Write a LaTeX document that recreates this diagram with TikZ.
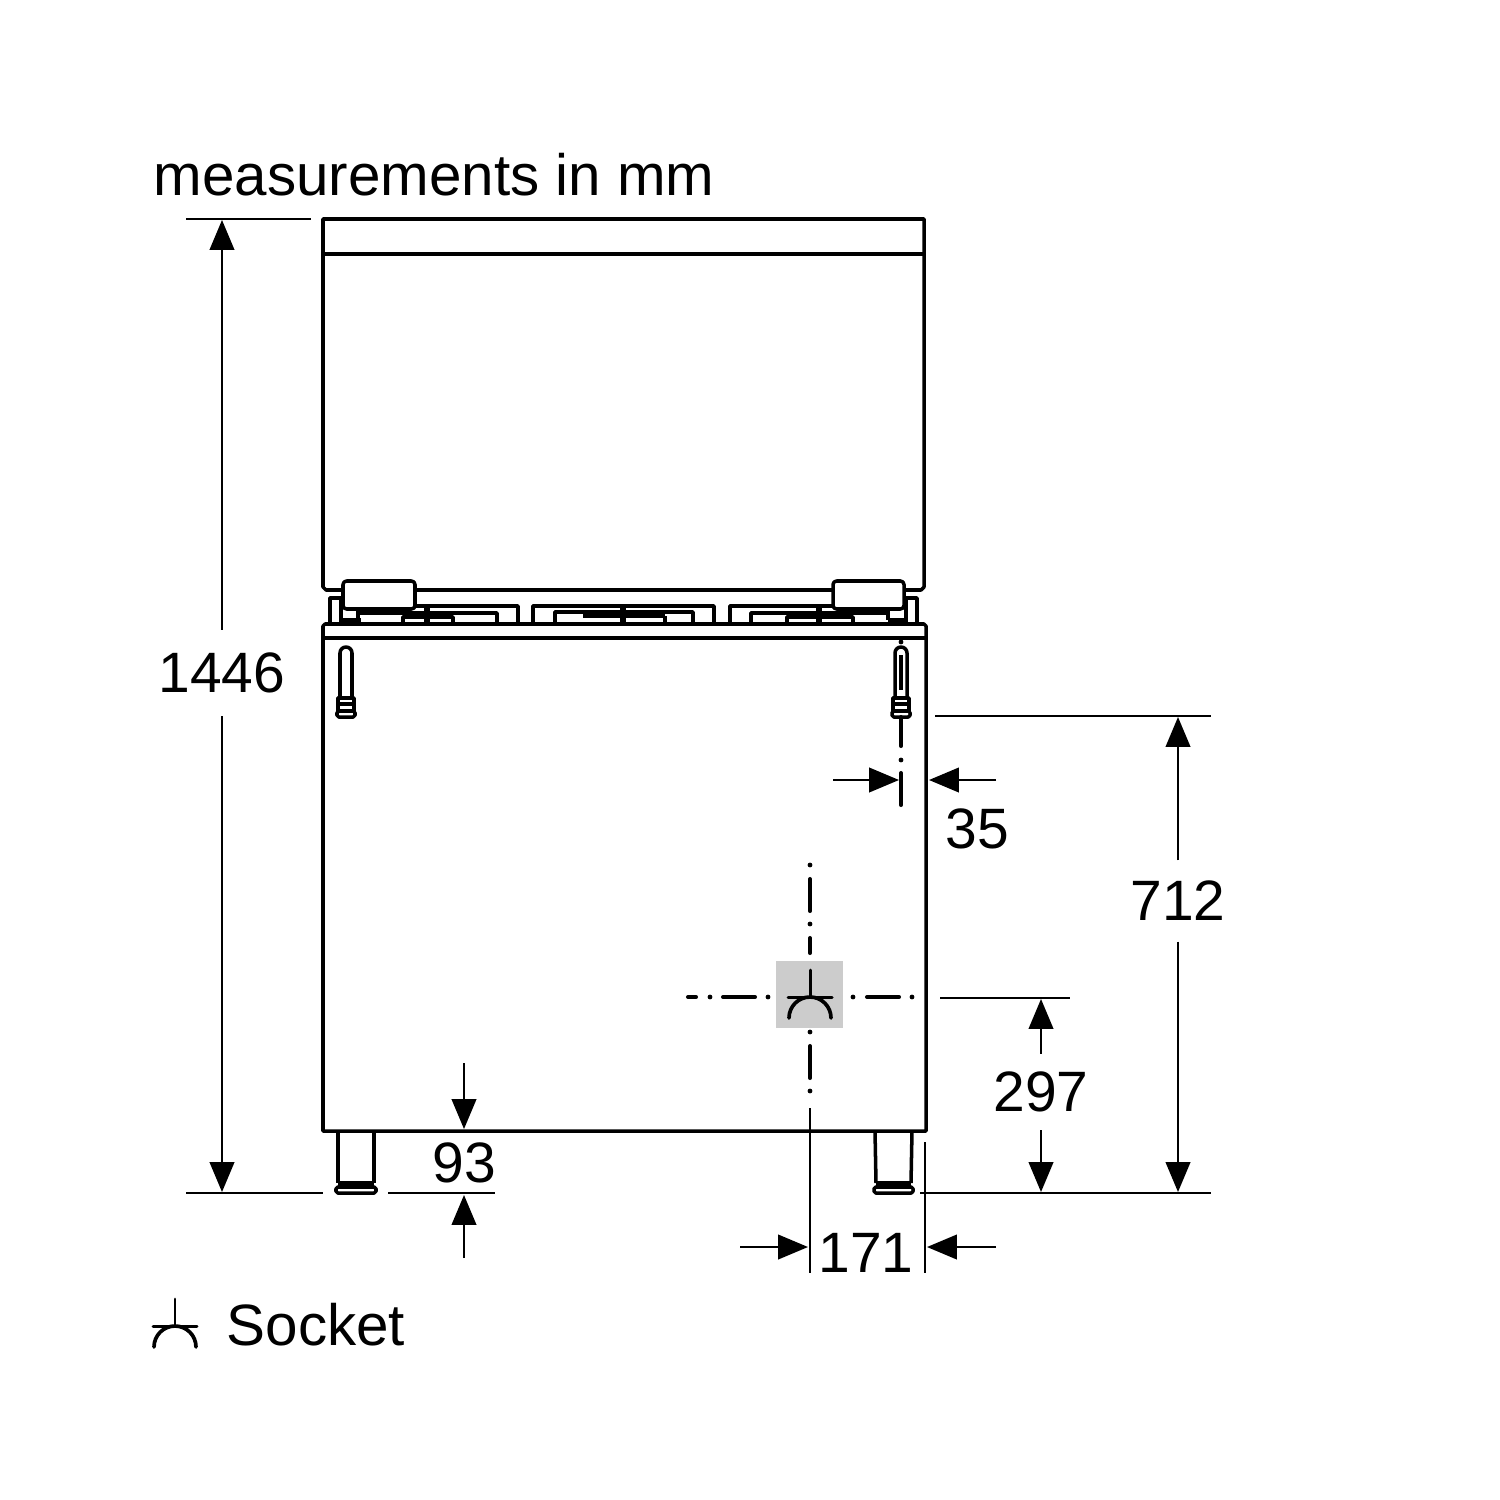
\documentclass[tikz,border=0pt]{standalone}
\usepackage{fontspec}
\setmainfont{Liberation Sans}
\usetikzlibrary{arrows.meta}
\tikzset{
	outline/.style={line width=1pt, line join=round},
	fine/.style={line width=.55pt},
	dimarrow/.style={line width=.55pt, -{Triangle[length=8.5pt,width=7pt]}},
	dimlabel/.style={inner sep=0pt, minimum height=8mm, font=\fontsize{16.2}{17}\selectfont},
	caption/.style={inner sep=0pt, anchor=base west, font=\fontsize{16.6}{17}\selectfont},
	center line/.style={line width=1.15pt, line cap=round},
	socketsym/.pic={
		\draw[line width=.85pt, line cap=round] (0,-27) -- (0,0);
		\draw[line width=.85pt, line cap=round] (-22,0) -- (22,0);
		\draw[line width=1.05pt, line cap=round] (-21,21) arc[start angle=180, end angle=360, radius=21];
	},
	gaspipe/.pic={
		\draw[outline] (-6,51) -- (-6,6) arc[start angle=180, end angle=360, radius=6] -- (6,51);
		\draw[outline] (-8,51) rectangle (8,64);
		\draw[outline] (-8,57) -- (8,57);
		\draw[outline, rounded corners=.5pt] (-9,64) rectangle (9,70);
	},
}
\begin{document}
\begin{tikzpicture}[x=.1mm, y=-.1mm]
	\useasboundingbox (0,0) rectangle (1500,1500);

	% socket field
	\fill[black!20] (776,961) rectangle (843,1028);
	\pic at (810,997) {socketsym};
	\pic at (175,1326) {socketsym};

	% lid
	\draw[outline] (343,590) -- (326,590) -- (323,587) -- (323,219) -- (924,219) -- (924,587) -- (921,590) -- (904,590);
	\draw[outline] (323,254) -- (924,254);
	\draw[outline] (415,590) -- (833,590);

	% hinges
	\draw[outline, rounded corners=1pt] (343,581) rectangle (415,609);
	\draw[outline, rounded corners=1pt] (833,581) rectangle (904,609);
	\draw[outline] (330,624) -- (330,598) -- (343,598);
	\draw[line width=1.3pt] (341,598) -- (341,624);
	\draw[outline] (904,598) -- (917,598) -- (917,624);
	\draw[line width=1.3pt] (906,598) -- (906,624);
	\draw[outline] (341,620) -- (361,620);
	\draw[outline] (358,609) -- (358,620);
	\draw[outline] (888,620) -- (906,620);
	\draw[outline] (888,609) -- (888,620);

	% burners
	\draw[outline] (415,606) -- (518,606) -- (518,624);
	\draw[outline] (358,613) -- (497,613) -- (497,624);
	\draw[outline] (403,622) -- (403,617) -- (453,617) -- (453,622);
	\draw[line width=1.6pt] (427,606) -- (427,624);
	\draw[outline] (533,624) -- (533,606) -- (714,606) -- (714,624);
	\draw[outline] (555,624) -- (555,612) -- (693,612) -- (693,624);
	\draw[line width=1.3pt] (583,616) -- (665,616);
	\draw[outline] (665,616) -- (665,622);
	\draw[line width=1.6pt] (623,606) -- (623,624);
	\draw[outline] (730,624) -- (730,606) -- (833,606);
	\draw[outline] (751,624) -- (751,613) -- (888,613);
	\draw[outline] (787,622) -- (787,617) -- (853,617) -- (853,622);
	\draw[line width=1.6pt] (819,606) -- (819,624);

	% body
	\draw[outline] (323,1131) -- (323,626) -- (325,624) -- (924,624) -- (926,626) -- (926,1131) -- cycle;
	\draw[outline] (323,638) -- (926,638);

	% gas pipes
	\pic at (346,647) {gaspipe};
	\pic at (901,647) {gaspipe};
	\draw[line width=1.4pt] (901,655) -- (901,690);

	% feet
	\draw[outline] (338,1131) -- (338,1183);
	\draw[outline] (374,1131) -- (374,1183);
	\draw[line width=1.5pt] (338,1184) -- (374,1184);
	\draw[outline, rounded corners=.5pt] (336,1187) rectangle (376,1193);
	\draw[outline] (875,1131) -- (876,1183);
	\draw[outline] (912,1131) -- (911,1183);
	\draw[line width=1.5pt] (876,1184) -- (911,1184);
	\draw[outline, rounded corners=.5pt] (874,1187) rectangle (913,1193);

	% centre lines
	\draw[center line] (901,717) -- (901,746);
	\draw[center line] (901,773) -- (901,805);
	\draw[center line] (688,997) -- (696,997);
	\draw[center line] (723,997) -- (755,997);
	\draw[center line] (867,997) -- (899,997);
	\draw[center line] (810,879) -- (810,911);
	\draw[center line] (810,938) -- (810,953);
	\draw[center line] (810,1046) -- (810,1078);
	\foreach \px/\py in {901/642, 901/760, 710/997, 768/997, 853/997, 912/997, 810/865, 810/924, 810/1032, 810/1091}
		\fill (\px,\py) circle (2.4);

	% dimension limits
	\draw[fine] (186,219) -- (311,219);
	\draw[fine] (186,1193) -- (323,1193);
	\draw[fine] (388,1193) -- (495,1193);
	\draw[fine] (920,1193) -- (1211,1193);
	\draw[fine] (935,716) -- (1211,716);
	\draw[fine] (940,998) -- (1070,998);
	\draw[fine] (810,1108) -- (810,1273);
	\draw[fine] (925,1142) -- (925,1273);

	% dimensions
	\node[dimlabel, minimum height=8.5mm] (lbl1446) at (222,673) {1446};
	\draw[dimarrow] (lbl1446) -- (222,220);
	\draw[dimarrow] (lbl1446) -- (222,1192);

	\node[dimlabel] (lbl712) at (1178,901) {712};
	\draw[dimarrow] (lbl712) -- (1178,717);
	\draw[dimarrow] (lbl712) -- (1178,1192);

	\node[dimlabel, minimum height=7.5mm] (lbl297) at (1041,1092) {297};
	\draw[dimarrow] (lbl297) -- (1041,999);
	\draw[dimarrow] (lbl297) -- (1041,1192);

	\node[dimlabel, minimum height=1mm] (lbl93) at (464,1163) {93};
	\draw[dimarrow] (464,1063) -- (464,1129);
	\draw[dimarrow] (464,1258) -- (464,1195);

	\node[dimlabel, minimum height=1mm] (lbl35) at (977,829) {35};
	\draw[dimarrow] (833,780) -- (899,780);
	\draw[dimarrow] (996,780) -- (929,780);

	\node[dimlabel, minimum height=1mm] (lbl171) at (866,1253) {171};
	\draw[dimarrow] (740,1247) -- (808,1247);
	\draw[dimarrow] (996,1247) -- (927,1247);

	% captions
	\node[caption] (lblunits) at (153,195) {measurements in mm};
	\node[caption] (lblsocket) at (226,1345) {Socket};
\end{tikzpicture}
\end{document}
